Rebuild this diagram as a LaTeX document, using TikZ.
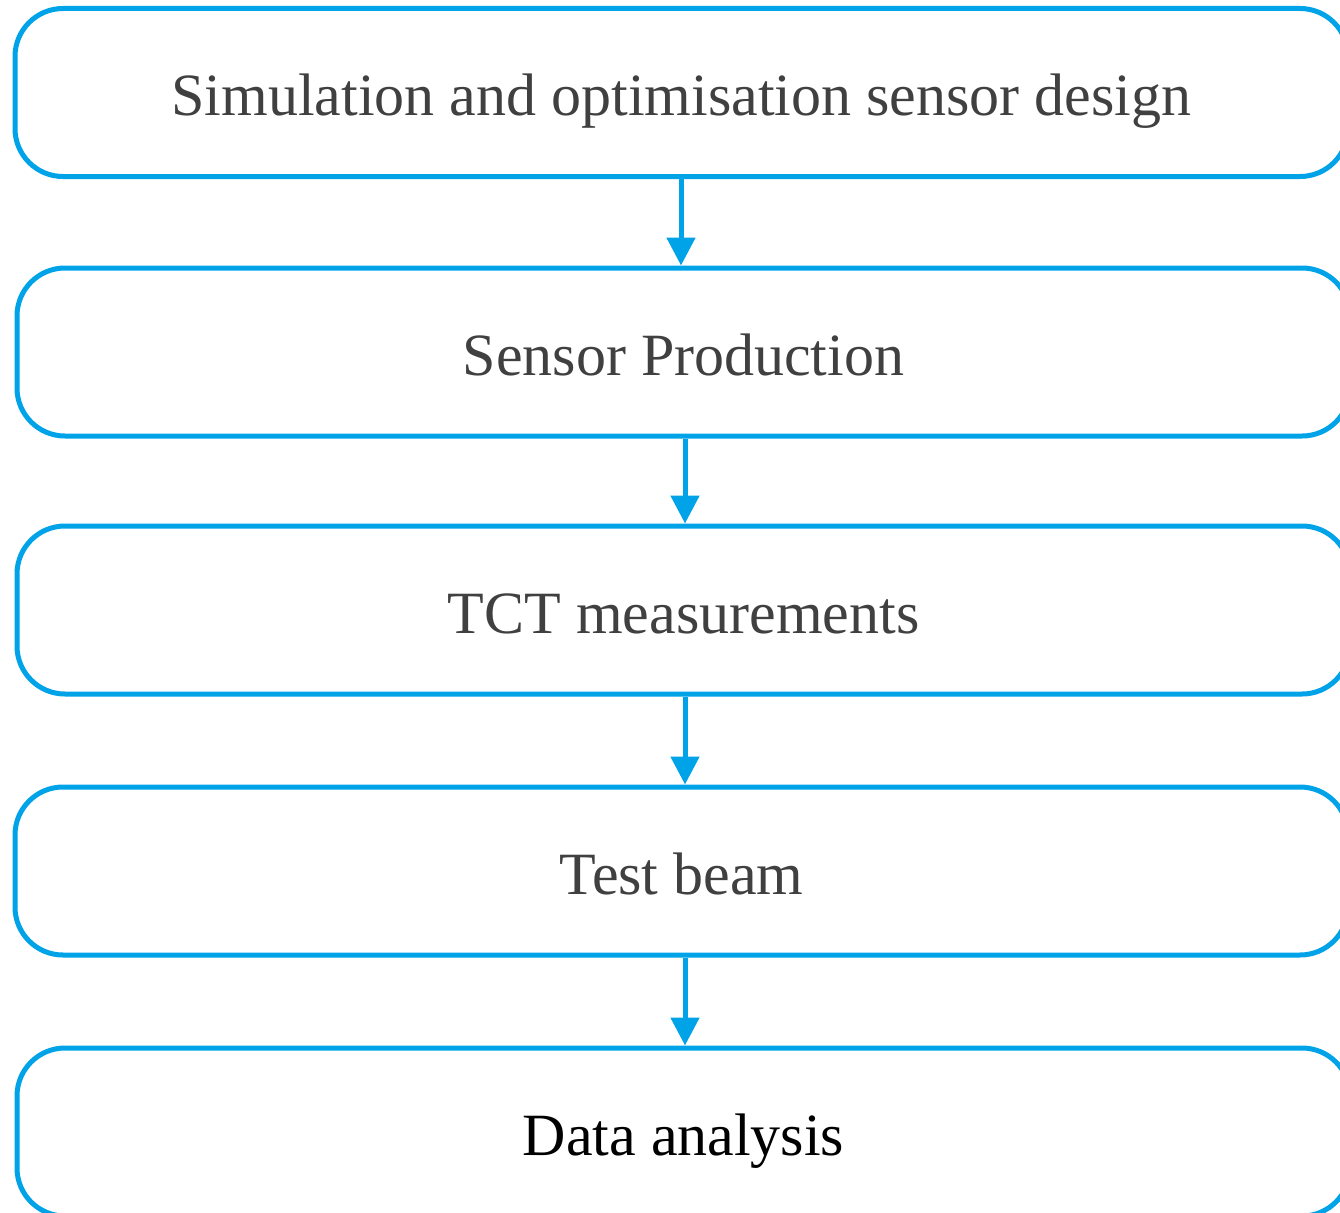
\documentclass[tikz,border=0pt]{standalone}
\usepackage{fontspec}
\setmainfont{Liberation Serif}
\usetikzlibrary{arrows.meta}
\definecolor{flowblue}{RGB}{0,163,232}
\definecolor{labelgray}{RGB}{64,64,64}
\tikzset{
  stage/.style={draw=flowblue, line width=5pt, rounded corners=48pt,
    minimum width=1333pt, minimum height=168pt, inner sep=0pt,
    text height=46pt, text depth=0pt,
    text=labelgray, font=\fontsize{60}{68}\selectfont},
  flow/.style={draw=flowblue, line width=5pt,
    -{Triangle[width=28pt,length=28pt]}}
}
\begin{document}
\begin{tikzpicture}[x=1pt,y=-1pt]
\useasboundingbox (0,0) rectangle (1340,1212);
\node[stage] (sim)  at (681.5,92.5)  {Simulation and optimisation sensor design};
\node[stage] (prod) at (683.5,352)   {Sensor Production};
\node[stage] (tct)  at (683.5,610)   {TCT measurements};
\node[stage] (beam) at (681.5,871)   {Test beam};
\node[stage, text=black] (ana) at (683.5,1132) {Data analysis};
\draw[flow] (sim.south -| 681,0) -- (prod.north -| 681,0);
\draw[flow] (prod.south -| 685,0) -- (tct.north -| 685,0);
\draw[flow] (tct.south -| 685,0) -- (beam.north -| 685,0);
\draw[flow] (beam.south -| 685,0) -- (ana.north -| 685,0);
\end{tikzpicture}
\end{document}
